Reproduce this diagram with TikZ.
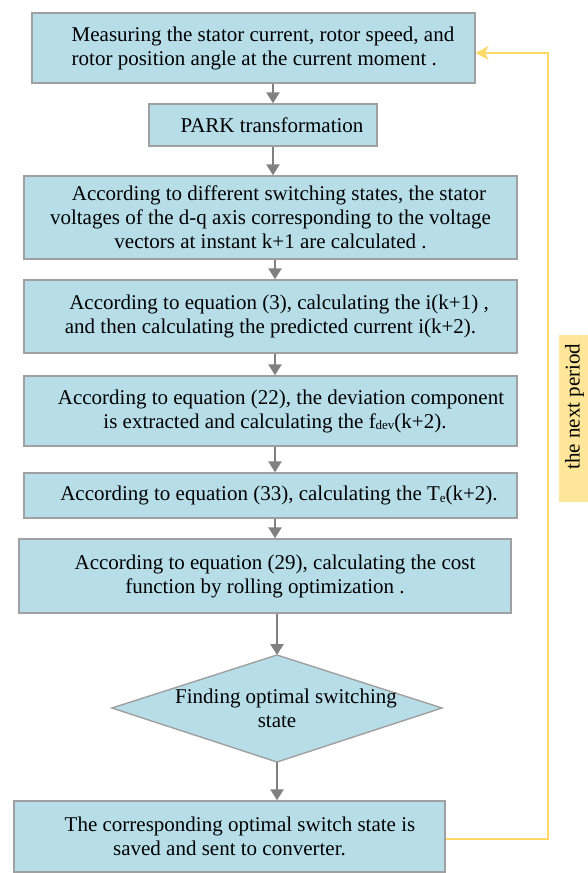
\documentclass[tikz,border=0pt]{standalone}
\usepackage{fontspec}
\setmainfont{Liberation Serif}
\usetikzlibrary{arrows.meta}
\definecolor{boxfill}{RGB}{183,222,232}
\definecolor{boxline}{RGB}{160,160,160}
\definecolor{arrgray}{RGB}{128,128,128}
\definecolor{loopyellow}{RGB}{255,217,102}
\definecolor{labelfill}{RGB}{255,230,153}
\newcommand{\subtxt}[1]{\raisebox{-1.5pt}{\fontsize{13}{13}\selectfont #1}}
\begin{document}
\begin{tikzpicture}[x=1pt,y=-1pt,
  box/.style={draw=boxline, line width=1.4pt, fill=boxfill, inner sep=0pt, align=center,
    font=\fontsize{21}{24}\selectfont},
  arr/.style={draw=arrgray, line width=2.5pt, -{Triangle[length=11pt,width=13pt]}},
  looparr/.style={draw=loopyellow, line width=2pt, -{Stealth[length=13pt,width=14pt,inset=4pt]}},
  lab/.style={fill=labelfill, inner sep=0pt, rotate=90, font=\fontsize{21}{24}\selectfont}]
\useasboundingbox (0,0) rectangle (588,873);

\node[box, align=left, minimum width=443pt, minimum height=70pt] (b1) at (253.5,48)
  {\hspace*{19pt}Measuring the stator current, rotor speed, and\\
   \hspace*{19pt}rotor position angle at the current moment .};
\node[box, minimum width=228pt, minimum height=42pt] (b2) at (263,125)
  {\hspace*{18pt}PARK transformation};
\node[box, minimum width=493pt, minimum height=83pt] (b3) at (270.5,217.5)
  {\hspace*{17pt}According to different switching states, the stator\\
   voltages of the d-q axis corresponding to the voltage\\
   vectors at instant k+1 are calculated .};
\node[box, minimum width=493pt, minimum height=73pt] (b4) at (270.5,316.5)
  {\hspace*{17pt}According to equation (3), calculating the i(k+1) ,\\
   and then calculating the predicted current i(k+2).};
\node[box, minimum width=493pt, minimum height=70pt] (b5) at (270.5,411)
  {\hspace*{21pt}According to equation (22), the deviation component\\
   \hspace*{9pt}is extracted and calculating the f\subtxt{dev}(k+2).};
\node[box, minimum width=493pt, minimum height=45pt] (b6) at (270.5,495.5)
  {\hspace*{17pt}According to equation (33), calculating the T\subtxt{e}(k+2).};
\node[box, minimum width=492pt, minimum height=74pt] (b7) at (265,576)
  {\hspace*{20pt}According to equation (29), calculating the cost\\
   function by rolling optimization .};

\coordinate (dT) at (277,655);
\coordinate (dR) at (442,708);
\coordinate (dB) at (277,762);
\coordinate (dL) at (112,708);
\draw[draw=boxline, line width=1.4pt, fill=boxfill] (dT) -- (dR) -- (dB) -- (dL) -- cycle;
\node[inner sep=0pt, align=center, font=\fontsize{21}{24}\selectfont] (d) at (277,708)
  {\hspace*{18pt}Finding optimal switching\\ state};

\node[box, minimum width=431pt, minimum height=71pt] (b8) at (229.5,836.5)
  {\hspace*{21pt}The corresponding optimal switch state is\\
   saved and sent to converter.};

\node[lab, minimum width=167pt, minimum height=31pt] (per) at (574.5,418.5)
  {\hspace*{24pt}the next period};

\coordinate (ax1) at (273,0);
\coordinate (ax2) at (275,0);
\coordinate (ax3) at (277,0);
\coordinate (loopx) at (548,0);

\draw[arr] (b1.south -| ax1) -- (b2.north -| ax1);
\draw[arr] (b2.south -| ax1) -- (b3.north -| ax1);
\draw[arr] (b3.south -| ax2) -- (b4.north -| ax2);
\draw[arr] (b4.south -| ax2) -- (b5.north -| ax2);
\draw[arr] (b5.south -| ax2) -- (b6.north -| ax2);
\draw[arr] (b6.south -| ax2) -- (b7.north -| ax2);
\draw[arr] (b7.south -| ax3) -- (dT);
\draw[arr] (dB) -- (b8.north -| ax3);

\draw[looparr] ([yshift=-2.5pt]b8.east) -| ([yshift=-5pt]loopx |- b1.east) -- ([yshift=-5pt]b1.east);
\end{tikzpicture}
\end{document}
